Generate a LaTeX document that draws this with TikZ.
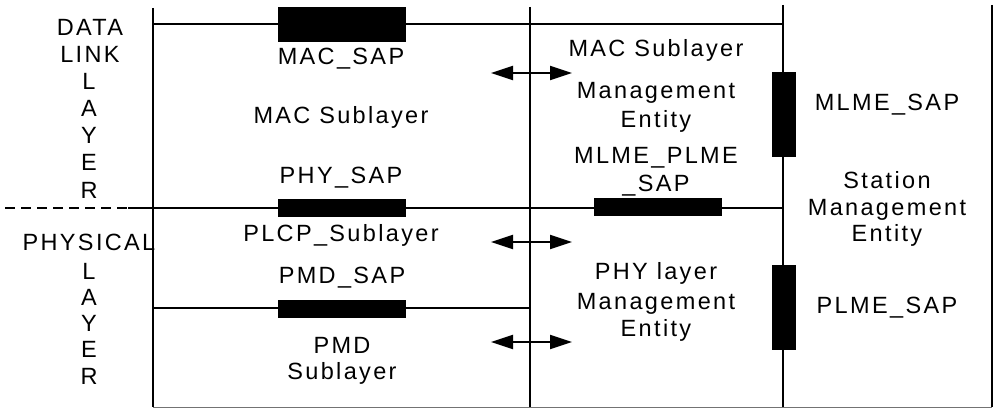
\documentclass[tikz,border=0pt]{standalone}
\usepackage{fontspec}
\setmainfont{Liberation Sans}[LetterSpace=10]
\usetikzlibrary{arrows.meta}

\begin{document}
\begin{tikzpicture}[x=1pt,y=-1pt,
  rule/.style={line width=1.5pt},
  sapbox/.style={fill=black, draw=none, inner sep=0pt},
  hsap/.style={sapbox, minimum width=128pt, minimum height=18pt},
  vsap/.style={sapbox, minimum width=24pt, minimum height=85pt},
  lbl/.style={anchor=base, inner sep=0pt, font=\fontsize{23.5}{28}\selectfont},
  xarrow/.style={line width=2.2pt, {Triangle[length=22pt,width=14pt]}-{Triangle[length=22pt,width=14pt]}}
]
\useasboundingbox (0,0) rectangle (994,409);

% frame coordinates
\coordinate (lt) at (153,8);   \coordinate (lb) at (153,407);
\coordinate (mt) at (530,7);   \coordinate (mb) at (530,407);
\coordinate (rt) at (783,5);   \coordinate (rb) at (783,407);
\coordinate (et) at (992,5);   \coordinate (eb) at (992,407);
\coordinate (topl) at (153,24);  \coordinate (topr) at (783,24);
\coordinate (dashl) at (5,208);  \coordinate (midl) at (128,208);
\coordinate (midr) at (783,208);
\coordinate (pmdl) at (153,308); \coordinate (pmdr) at (530,308);

% vertical rules
\draw[rule] (lt) -- (lb);
\draw[rule] (mt) -- (mb);
\draw[rule] (rt) -- (rb);
\draw[rule] (et) -- (eb);
\draw[line width=1pt, black!55] (lb) -- (eb);

% horizontal rules
\draw[rule] (topl) -- (topr);
\draw[rule, dash pattern=on 10pt off 6pt] (dashl) -- (midl);
\draw[rule] (midl) -- (midr);
\draw[rule] (pmdl) -- (pmdr);

% service access points
\node[hsap, minimum height=35pt] (macsap) at (341.5,24.5) {};
\node[hsap] (physap) at (342,208) {};
\node[hsap] (mlmeplmesap) at (658,207) {};
\node[hsap] (pmdsap) at (342,308.5) {};
\node[vsap] (mlmesap) at (783.5,114.5) {};
\node[vsap] (plmesap) at (784,307.5) {};

% management interactions
\coordinate (a1l) at (491,73);  \coordinate (a1r) at (572,73);
\coordinate (a2l) at (491,242); \coordinate (a2r) at (572,242);
\coordinate (a3l) at (491,342); \coordinate (a3r) at (572,342);
\draw[xarrow] (a1l) -- (a1r);
\draw[xarrow] (a2l) -- (a2r);
\draw[xarrow] (a3l) -- (a3r);

% layer names
\node[lbl] (dl1) at (90,36)  {DATA};
\node[lbl] (dl2) at (90,63)  {LINK};
\node[lbl] (dl3) at (89,90)  {L};
\node[lbl] (dl4) at (89,117) {A};
\node[lbl] (dl5) at (89,144) {Y};
\node[lbl] (dl6) at (89,171) {E};
\node[lbl] (dl7) at (89,198) {R};
\node[lbl] (ph1) at (89,250) {PHYSICAL};
\node[lbl] (ph2) at (89,279) {L};
\node[lbl] (ph3) at (89,305) {A};
\node[lbl] (ph4) at (89,331) {Y};
\node[lbl] (ph5) at (89,357) {E};
\node[lbl] (ph6) at (89,384) {R};

% sublayer column
\node[lbl] (tmacsap) at (341,65)  {MAC\_SAP};
\node[lbl] (tmacsub) at (341,124) {MAC Sublayer};
\node[lbl] (tphysap) at (341,183) {PHY\_SAP};
\node[lbl] (tplcp)   at (341,241) {PLCP\_Sublayer};
\node[lbl] (tpmdsap) at (342,283) {PMD\_SAP};
\node[lbl] (tpmd1)   at (342,353) {PMD};
\node[lbl] (tpmd2)   at (342,379) {Sublayer};

% management entity column
\node[lbl] (tmlme1) at (656,57)  {MAC Sublayer};
\node[lbl] (tmlme2) at (656,99)  {Management};
\node[lbl] (tmlme3) at (656,128) {Entity};
\node[lbl] (tmp1)   at (656,164) {MLME\_PLME};
\node[lbl] (tmp2)   at (656,192) {\_SAP};
\node[lbl] (tplme1) at (656,279) {PHY layer};
\node[lbl] (tplme2) at (656,309) {Management};
\node[lbl] (tplme3) at (656,336) {Entity};

% station management column
\node[lbl] (tmlmesap) at (887,111) {MLME\_SAP};
\node[lbl] (tsme1)    at (887,189) {Station};
\node[lbl] (tsme2)    at (887,215) {Management};
\node[lbl] (tsme3)    at (887,241) {Entity};
\node[lbl] (tplmesap) at (887,313) {PLME\_SAP};
\end{tikzpicture}
\end{document}
